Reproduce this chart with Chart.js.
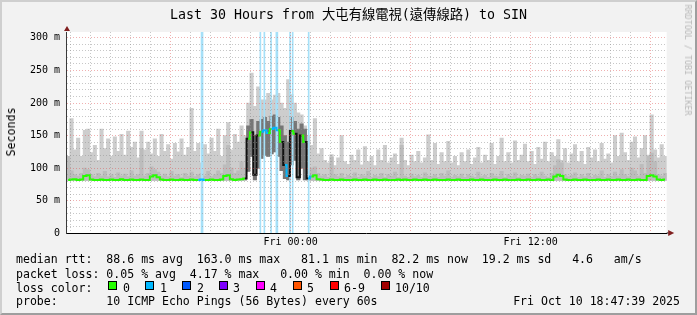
<!DOCTYPE html>
<html lang="en">
<head>
<meta charset="UTF-8">
<title>Last 30 Hours to SIN</title>
<script src="https://cdn.jsdelivr.net/npm/chart.js"></script>
<style>
  body { margin: 0; background: #f2f2f2; font-family: "DejaVu Sans Mono", monospace; color: #000; }
  .wrap { position: relative; width: 697px; height: 315px; overflow: hidden; }
  canvas { position: absolute; left: 0; top: 0; }
  .frame { position: absolute; left: 0; top: 0; width: 697px; height: 315px; box-sizing: border-box;
           border-top: 2px solid #cfcfcf; border-left: 2px solid #cfcfcf;
           border-right: 2px solid #9e9e9e; border-bottom: 2px solid #9e9e9e; pointer-events: none; }
  .title { position: absolute; left: 0; top: 6px; width: 697px; text-align: center; font-size: 13.3px; line-height: 17px;
           font-family: "DejaVu Sans Mono", "Noto Sans CJK TC", monospace; white-space: pre; }
  .ytitle { position: absolute; left: 11px; top: 132px; transform: translate(-50%, -50%) rotate(-90deg); font-size: 11.6px; white-space: nowrap; }
  .mark { position: absolute; left: 688px; top: 60px; transform: translate(-50%, -50%) rotate(90deg); font-size: 8.4px; color: #b8b8b8; white-space: nowrap; }
  .leg { position: absolute; font-size: 11.56px; line-height: 14px; white-space: pre; }
  .box { position: absolute; top: 281px; width: 7px; height: 7px; border: 1px solid #000; }
</style>
</head>
<body>
<div class="wrap">
  <canvas id="smoke" width="697" height="315"></canvas>
  <div class="title">Last 30 Hours from 大屯有線電視(遠傳線路) to SIN</div>
  <div class="ytitle">Seconds</div>
  <div class="mark">RRDTOOL / TOBI OETIKER</div>

  <div class="leg" style="left:16px; top:252px">median rtt:  88.6 ms avg  163.0 ms max   81.1 ms min  82.2 ms now  19.2 ms sd   4.6   am/s</div>
  <div class="leg" style="left:16px; top:267px">packet loss: 0.05 % avg  4.17 % max   0.00 % min  0.00 % now</div>
  <div class="leg" style="left:16px; top:280.5px">loss color:</div>
  <div id="lossKey"></div>
  <div class="leg" style="left:16px; top:294px">probe:       10 ICMP Echo Pings (56 Bytes) every 60s</div>
  <div class="leg" style="right:17px; top:294px">Fri Oct 10 18:47:39 2025</div>
  <div class="frame"></div>
</div>

<script>
// hours relative to Fri 00:00, 10 minute bins
const startHour = -11.2;
const endHour = 18.8;
const binHours = 1 / 6;

// median rtt per bin (ms)
const median = [
  82, 82.5, 83, 82, 82.5, 88, 89, 82.5, 82, 82,
  82.5, 82, 82, 82.5, 82, 82, 83, 82, 82, 82.5,
  82, 82, 82.5, 82, 82, 87, 89, 86, 82.5, 82,
  82, 82.5, 82, 82, 82.5, 82, 82, 82.5, 82, 82,
  82.5, 82, 82, 82.5, 82, 82, 82.5, 88, 89, 83,
  82, 82.5, 83, 84, 145, 155, 90, 150, 156, 158,
  154, 160, 162, 158, 140, 105, 88, 157, 153, 86,
  150, 140, 84, 87, 89, 83, 82.5, 82, 82, 82.5,
  82, 82, 82.5, 82, 82, 82, 82.5, 82, 82, 82.5,
  82, 82, 82.5, 82, 82, 82.5, 82, 82, 82, 82.5,
  82, 82.5, 82, 82, 82.5, 82, 82, 82.5, 82, 82,
  82.5, 82, 82, 82, 82.5, 82, 82, 82.5, 82, 82,
  82, 82.5, 82, 82, 82.5, 82, 82, 82, 82.5, 82,
  82, 82.5, 82, 82, 82, 82.5, 82, 82, 82.5, 82,
  82, 82.5, 82, 82, 82.5, 82, 87, 90, 88, 82.5,
  82, 82, 82.5, 82, 82, 82.5, 82, 82, 82, 82.5,
  82, 82, 82.5, 82, 82, 82.5, 82, 82, 82.5, 82,
  82, 82.5, 82, 82, 88, 89, 87, 82.5, 82, 82.5
];

// lowest ping per bin
const smokeMin = [
  81, 81, 81, 81, 81, 81, 81, 81, 81, 81,
  81, 81, 81, 81, 81, 81, 81, 81, 81, 81,
  81, 81, 81, 81, 81, 81, 81, 81, 81, 81,
  81, 81, 81, 81, 81, 81, 81, 81, 81, 81,
  81, 81, 81, 81, 81, 81, 81, 81, 81, 81,
  81, 81, 81, 81, 95, 118, 82, 100, 115, 120,
  118, 122, 125, 118, 96, 84, 82, 105, 112, 82,
  100, 82, 81, 81, 81, 81, 81, 81, 81, 81,
  81, 81, 81, 81, 81, 81, 81, 81, 81, 81,
  81, 81, 81, 81, 81, 81, 81, 81, 81, 81,
  81, 81, 81, 81, 81, 81, 81, 81, 81, 81,
  81, 81, 81, 81, 81, 81, 81, 81, 81, 81,
  81, 81, 81, 81, 81, 81, 81, 81, 81, 81,
  81, 81, 81, 81, 81, 81, 81, 81, 81, 81,
  81, 81, 81, 81, 81, 81, 81, 81, 81, 81,
  81, 81, 81, 81, 81, 81, 81, 81, 81, 81,
  81, 81, 81, 81, 81, 81, 81, 81, 81, 81,
  81, 81, 81, 81, 81, 81, 81, 81, 81, 81
];

// dense smoke top (middle pings)
const smokeInner = [
  118, 96, 90, 88, 92, 100, 98, 90, 87, 92,
  88, 95, 87, 90, 86, 93, 88, 91, 87, 96,
  88, 90, 130, 88, 92, 102, 98, 94, 88, 91,
  87, 95, 88, 90, 86, 92, 88, 94, 87, 90,
  92, 88, 95, 87, 90, 96, 92, 105, 135, 100,
  92, 96, 110, 100, 165, 175, 150, 172, 175, 178,
  172, 180, 182, 178, 165, 150, 140, 178, 172, 160,
  168, 160, 95, 100, 102, 92, 88, 90, 86, 117,
  90, 87, 92, 86, 89, 87, 93, 86, 90, 88,
  95, 86, 89, 87, 92, 86, 90, 88, 94, 86,
  135, 88, 86, 91, 87, 89, 86, 93, 88, 87,
  90, 86, 92, 88, 96, 86, 89, 87, 91, 86,
  90, 88, 86, 94, 87, 89, 86, 92, 88, 87,
  95, 86, 90, 87, 93, 86, 89, 88, 91, 86,
  90, 87, 94, 88, 86, 92, 104, 113, 108, 90,
  87, 89, 93, 86, 90, 87, 92, 86, 89, 88,
  96, 86, 90, 87, 94, 88, 98, 90, 87, 100,
  96, 88, 106, 92, 118, 123, 110, 90, 88, 92
];

// highest ping per bin
const smokeOuter = [
  112, 176, 128, 146, 118, 158, 160, 124, 135, 112,
  160, 130, 145, 118, 148, 126, 152, 120, 157, 132,
  140, 116, 157, 128, 140, 122, 145, 118, 152, 126,
  136, 114, 138, 125, 145, 120, 132, 192, 126, 138,
  108, 136, 122, 146, 126, 160, 118, 150, 170, 128,
  152, 140, 165, 150, 200, 246, 195, 225, 205, 205,
  215, 205, 212, 215, 200, 192, 236, 213, 200, 185,
  182, 165, 150, 135, 176, 122, 130, 112, 108, 121,
  104, 116, 150, 110, 106, 120, 112, 128, 105, 133,
  110, 118, 104, 128, 112, 135, 108, 116, 122, 106,
  146, 112, 104, 120, 110, 126, 108, 116, 151, 112,
  138, 106, 124, 110, 141, 108, 118, 104, 124, 110,
  128, 106, 116, 132, 108, 120, 112, 138, 106, 118,
  146, 110, 124, 108, 142, 112, 120, 137, 110, 126,
  106, 132, 114, 140, 110, 124, 118, 144, 112, 130,
  108, 122, 136, 110, 126, 106, 132, 116, 128, 110,
  138, 114, 122, 108, 150, 118, 154, 124, 112, 140,
  148, 116, 130, 150, 120, 182, 128, 116, 136, 118
];

// bins whose median had 1/10 loss
const lossBins = [40, 59, 62, 66, 72];
// loss events (hours), longer and shorter ones
const lossLong = [-4.425, -0.685];
const lossShort = [-1.51, -1.31, -0.975, -0.025, 0.105, 0.905];

const yMax = 309;
const yTicks = [];
for (let v = 0; v <= 300; v += 10) yTicks.push(v);
const hourTicks = [];
for (let h = -11; h <= 18; h++) hourTicks.push(h);
const hourLabels = { 0: 'Fri 00:00', 12: 'Fri 12:00' };

const lossColors = [
  ['0', '#26ff00', 108, 123], ['1', '#00b8ff', 145, 160], ['2', '#0059ff', 182, 197],
  ['3', '#7e00ff', 219, 233], ['4', '#ff00ff', 256, 270], ['5', '#ff5500', 293, 307],
  ['6-9', '#ff0000', 330, 344], ['10/10', '#a10000', 381, 395]
];
const key = document.getElementById('lossKey');
lossColors.forEach(([label, color, bx, tx]) => {
  key.insertAdjacentHTML('beforeend',
    `<div class="box" style="left:${bx}px; background:${color}"></div>` +
    `<div class="leg" style="left:${tx}px; top:280.5px">${label}</div>`);
});

const binTimes = median.map((_, i) => startHour + (i + 0.5) * binHours);

const gridColor = 'rgba(143,143,143,0.5)';
const mgridColor = 'rgba(222,79,79,0.45)';

const plotBg = {
  id: 'plotBg',
  beforeDraw(chart) {
    const { ctx, chartArea: a } = chart;
    ctx.save();
    ctx.fillStyle = '#ffffff';
    ctx.fillRect(a.left, a.top, a.right - a.left, a.bottom - a.top);
    ctx.restore();
  }
};

const arrows = {
  id: 'arrows',
  afterDraw(chart) {
    const { ctx, chartArea: a } = chart;
    const yb = Math.round(a.bottom) - 0.5;
    const xl = Math.round(a.left) - 0.5;
    ctx.save();
    ctx.strokeStyle = '#000';
    ctx.lineWidth = 1;
    ctx.beginPath();
    ctx.moveTo(a.right, yb + 0.5);
    ctx.lineTo(a.right + 2, yb + 0.5);
    ctx.stroke();
    ctx.fillStyle = '#801f1f';
    ctx.beginPath();
    ctx.moveTo(a.right + 1.5, yb - 2.5);
    ctx.lineTo(a.right + 7.5, yb + 0.5);
    ctx.lineTo(a.right + 1.5, yb + 3.5);
    ctx.fill();
    ctx.beginPath();
    ctx.moveTo(xl - 2.5, a.top - 1);
    ctx.lineTo(xl + 0.5, a.top - 6);
    ctx.lineTo(xl + 3.5, a.top - 1);
    ctx.fill();
    ctx.restore();
  }
};

new Chart(document.getElementById('smoke'), {
  type: 'bar',
  data: {
    datasets: [
      {
        type: 'line',
        label: 'median rtt',
        data: binTimes.map((t, i) => ({ x: t, y: median[i] })),
        borderColor: '#26ff00',
        borderWidth: 2,
        pointRadius: 0,
        stepped: 'middle',
        segment: {
          borderColor: c => {
            if (Math.abs(c.p1.parsed.y - c.p0.parsed.y) > 25) return '#111111';
            if (lossBins.includes(c.p0DataIndex) || lossBins.includes(c.p1DataIndex)) return '#00b8ff';
            return '#26ff00';
          }
        },
        order: 0
      },
      {
        label: 'loss',
        data: lossLong.map(t => ({ x: t, y: yMax })),
        backgroundColor: '#a6e0f8',
        barThickness: 2,
        grouped: false,
        order: 1
      },
      {
        label: 'loss short',
        data: lossShort.map(t => ({ x: t, y: yMax })),
        backgroundColor: '#a6e0f8',
        barThickness: 1,
        grouped: false,
        order: 1
      },
      {
        label: 'smoke inner',
        data: binTimes.map((t, i) => ({ x: t, y: [smokeMin[i], smokeInner[i]] })),
        backgroundColor: c => (smokeInner[c.dataIndex] >= 140 ? '#767676' : '#bcbcbc'),
        barThickness: 3.4,
        grouped: false,
        order: 2
      },
      {
        label: 'smoke outer',
        data: binTimes.map((t, i) => ({ x: t, y: [smokeMin[i], smokeOuter[i]] })),
        backgroundColor: '#cdcdcd',
        barThickness: 3.4,
        grouped: false,
        order: 3
      }
    ]
  },
  options: {
    responsive: false,
    animation: false,
    events: [],
    layout: { padding: { top: 32, right: 30.3, bottom: 0, left: 0 } },
    plugins: { legend: { display: false }, tooltip: { enabled: false } },
    scales: {
      x: {
        type: 'linear',
        min: startHour,
        max: endHour,
        offset: false,
        afterBuildTicks: s => { s.ticks = hourTicks.map(v => ({ value: v })); },
        afterFit: s => { s.height = 315 - 233.3; },
        ticks: {
          autoSkip: false, maxRotation: 0, padding: 3, color: '#000',
          font: { family: '"DejaVu Sans Mono"', size: 10 },
          callback: v => hourLabels[v] || ''
        },
        grid: {
          offset: false, z: 1, drawTicks: false,
          color: c => (c.tick && c.tick.value % 6 === 0 ? mgridColor : gridColor)
        },
        border: { z: 1, color: '#000', width: 1, dash: [1, 2] }
      },
      y: {
        min: 0,
        max: yMax,
        afterBuildTicks: s => { s.ticks = yTicks.map(v => ({ value: v })); },
        afterFit: s => { s.width = 66.5; },
        ticks: {
          autoSkip: false, padding: 6.5, color: '#000',
          font: { family: '"DejaVu Sans Mono"', size: 10 },
          callback: v => (v % 50 ? '' : (v === 0 ? '0' : v + ' m'))
        },
        grid: {
          z: 1, drawTicks: false,
          color: c => {
            if (!c.tick || c.tick.value === 0) return 'rgba(0,0,0,0)';
            return c.tick.value % 50 === 0 ? mgridColor : gridColor;
          }
        },
        border: { z: 1, color: '#3a3a3a', width: 1, dash: [1, 2] }
      }
    }
  },
  plugins: [plotBg, arrows]
});
</script>
</body>
</html>
